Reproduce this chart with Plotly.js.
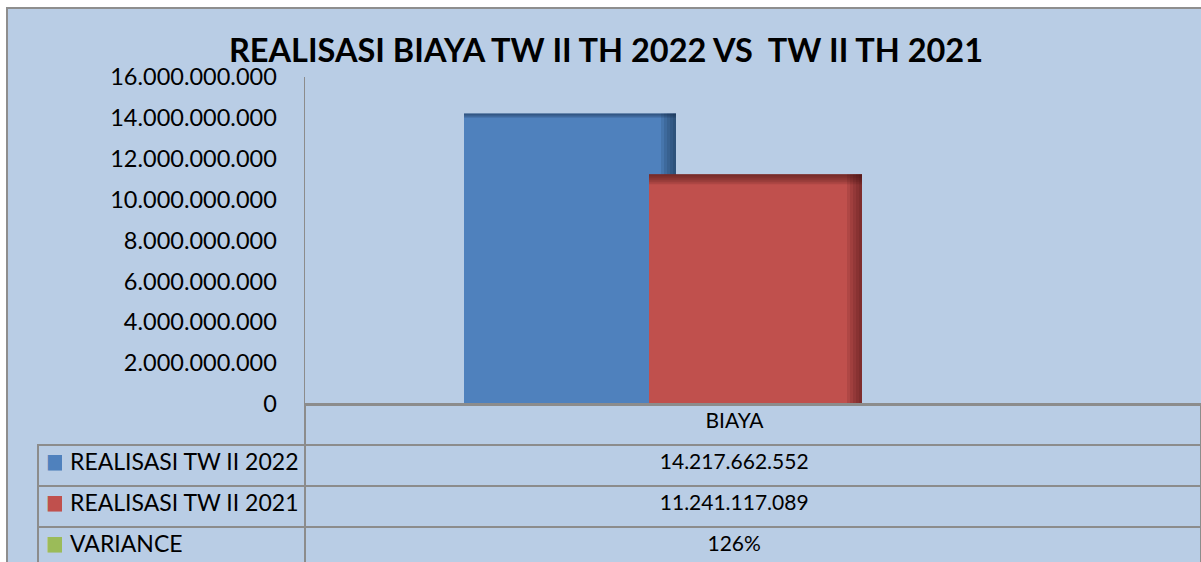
<!DOCTYPE html>
<html>
<head>
<meta charset="utf-8">
<script src="https://cdn.plot.ly/plotly-3.0.1.min.js"></script>
<style>
  html, body { margin: 0; padding: 0; background: #ffffff; overflow: hidden; width: 1201px; height: 562px; }
  #frame { position: absolute; left: 6px; top: 7px; width: 1300px; height: 700px;
           background: #b9cde5; border-left: 2px solid #8e8e8e; border-top: 2px solid #8e8e8e; }
  #chart { position: absolute; left: 0; top: 0; }
</style>
</head>
<body>
<div id="frame"></div>
<div id="chart"></div>
<script>
// ---------- data ----------
const categories = ['BIAYA'];
const seriesNames = ['REALISASI TW II 2022', 'REALISASI TW II 2021', 'VARIANCE'];
const realisasi2022 = [14217662552];
const realisasi2021 = [11241117089];
const varianceText = ['126%'];
const seriesColors = ['#4f81bd', '#c0504d', '#9bbb59'];
const shadeColors = ['#10233f', '#3a0f0e'];

// ---------- layout helpers (pixels -> paper) ----------
const W = 1201, H = 600;
const px = x => x / W;
const py = y => 1 - y / H;
const axisLeft = 305, axisRight = 1201, axisTop = 77, axisBottom = 404;
const tableLeft = 38;
const catCenter = 736;
const unit = axisRight - axisLeft;
const yMax = 16000000000;
const pxValue = yMax / (axisBottom - axisTop);
const FONT = 'Lato, "Open Sans", sans-serif';
const CLEAR = 'rgba(0,0,0,0)';
const GRID = '#8c8c8c';

function fmt(n) {
  return String(Math.round(n)).replace(/\B(?=(\d{3})+(?!\d))/g, '.');
}

const traces = [];
function barSet(values, color, shade, leftPx, widthPx, topBands, topOpacity) {
  const off = (leftPx - catCenter) / unit;
  const wid = widthPx / unit;
  traces.push({
    type: 'bar', x: categories, y: values, offset: off, width: wid,
    marker: { color: color, line: { width: 0 } }, hoverinfo: 'skip', showlegend: false
  });
  for (let i = 1; i <= 5; i++) {
    const w = i * 3;
    traces.push({
      type: 'bar', x: categories, y: values,
      offset: (leftPx + widthPx - w - catCenter) / unit, width: w / unit,
      marker: { color: shade, opacity: 0.13, line: { width: 0 } },
      hoverinfo: 'skip', showlegend: false
    });
  }
  for (let i = 1; i <= topBands; i++) {
    const h = i * 2 * pxValue;
    traces.push({
      type: 'bar', x: categories, y: values.map(() => h), base: values.map(v => v - h),
      offset: off, width: wid,
      marker: { color: shade, opacity: topOpacity, line: { width: 0 } },
      hoverinfo: 'skip', showlegend: false
    });
  }
}
barSet(realisasi2022, seriesColors[0], shadeColors[0], 464, 212, 2, 0.25);
barSet(realisasi2021, seriesColors[1], shadeColors[1], 649, 213, 5, 0.14);

// ---------- data table (grid + values) ----------
const padRight = '\u00a0'.repeat(7);
const tableY = [0, py(axisBottom)];
traces.push({
  type: 'table',
  domain: { x: [px(tableLeft), 1], y: tableY },
  columnwidth: [axisLeft - tableLeft, unit],
  header: {
    values: ['', categories[0] + padRight],
    height: 41,
    align: ['left', 'center'],
    fill: { color: CLEAR },
    line: { color: [CLEAR, GRID], width: 1.5 },
    font: { family: FONT, size: 21, color: '#000000' }
  },
  cells: {
    values: [
      seriesNames.map(() => ''),
      [fmt(realisasi2022[0]) + padRight, fmt(realisasi2021[0]) + padRight, varianceText[0] + padRight]
    ],
    height: 41,
    align: ['left', 'center'],
    fill: { color: CLEAR },
    line: { color: GRID, width: 1.5 },
    font: { family: FONT, size: 21, color: '#000000' }
  }
});
// legend keys + series names (overlaid, no borders)
const overlayRight = 420;
traces.push({
  type: 'table',
  domain: { x: [px(tableLeft), px(overlayRight)], y: tableY },
  columnwidth: [24, overlayRight - tableLeft - 24],
  header: {
    values: ['', ''], height: 41,
    fill: { color: CLEAR }, line: { color: CLEAR, width: 0 },
    font: { family: FONT, size: 21, color: '#000000' }
  },
  cells: {
    values: [seriesNames.map(() => '■'), seriesNames],
    height: 41, align: 'left',
    fill: { color: CLEAR }, line: { color: CLEAR, width: 0 },
    font: {
      family: ['"DejaVu Sans", sans-serif', FONT],
      size: [20, 23],
      color: [seriesColors, '#000000']
    }
  }
});

const layout = {
  width: W, height: H,
  margin: { l: 0, r: 0, t: 0, b: 0, pad: 0 },
  paper_bgcolor: CLEAR,
  plot_bgcolor: CLEAR,
  separators: ',.',
  barmode: 'overlay',
  showlegend: false,
  title: {
    text: '<b>REALISASI BIAYA TW II TH 2022 VS\u00a0 TW II TH 2021</b>',
    x: px(606), xref: 'paper', xanchor: 'center',
    y: py(51), yref: 'paper', yanchor: 'middle',
    font: { family: FONT, size: 32.5, color: '#000000' }
  },
  xaxis: {
    type: 'category',
    domain: [px(axisLeft), px(axisRight)],
    range: [-(catCenter - axisLeft) / unit, (axisRight - catCenter) / unit],
    showline: true, linecolor: GRID, linewidth: 1.5,
    showgrid: false, zeroline: false, showticklabels: false, ticks: ''
  },
  yaxis: {
    domain: [py(axisBottom), py(axisTop)],
    range: [0, yMax],
    dtick: 2000000000,
    tickformat: ',d',
    showline: true, linecolor: GRID, linewidth: 1.5,
    showgrid: false, zeroline: false, ticks: '',
    ticklabelstandoff: 22,
    tickfont: { family: FONT, size: 23.5, color: '#000000' }
  }
};

Plotly.newPlot('chart', traces, layout, { displayModeBar: false, staticPlot: true });
</script>
</body>
</html>
